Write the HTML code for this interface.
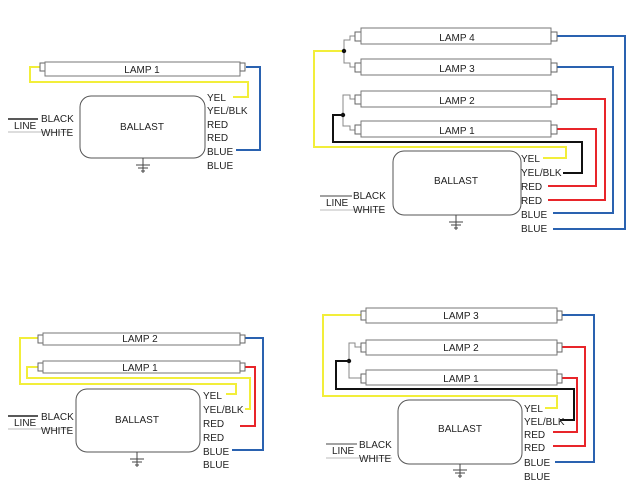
<!DOCTYPE html>
<html><head><meta charset="utf-8"><style>
html,body{margin:0;padding:0;background:#fff;}
svg{display:block;}
text{font-family:"Liberation Sans",sans-serif;font-size:10px;fill:#222;}
.t{fill:#fff;stroke:#777;stroke-width:1;}
.c{fill:#fff;stroke:#666;stroke-width:1;}
.g{fill:none;stroke:#888;stroke-width:1;}
.y{fill:none;stroke:#f2ee3a;stroke-width:2;}
.k{fill:none;stroke:#111;stroke-width:2;}
.r{fill:none;stroke:#e8252a;stroke-width:2;}
.b{fill:none;stroke:#2a62b0;stroke-width:2;}
.bx{fill:#fff;stroke:#555;stroke-width:1;}
.gl{stroke:#444;stroke-width:1;}
</style></head><body>
<svg width="640" height="480" viewBox="0 0 640 480" xmlns="http://www.w3.org/2000/svg">

<!-- ===== Diagram 1 ===== -->
<polyline class="y" points="40,67 30,67 30,82 248,82 248,97 233,97"/>
<polyline class="b" points="246,67 260,67 260,150 236,150"/>
<rect class="c" x="40" y="63" width="5" height="8"/>
<rect class="t" x="45" y="62" width="195" height="14"/>
<rect class="c" x="240" y="63" width="5" height="8"/>
<text x="142" y="73" text-anchor="middle">LAMP 1</text>
<rect class="bx" x="80" y="96" width="125" height="62" rx="11"/>
<text x="142" y="130" text-anchor="middle">BALLAST</text>
<text x="207" y="101">YEL</text>
<text x="207" y="114">YEL/BLK</text>
<text x="207" y="128">RED</text>
<text x="207" y="141">RED</text>
<text x="207" y="155">BLUE</text>
<text x="207" y="169">BLUE</text>
<g class="gl"><line x1="143" y1="158" x2="143" y2="173"/><line x1="136" y1="165" x2="150" y2="165"/><line x1="138" y1="168" x2="148" y2="168"/><line x1="141" y1="171" x2="145" y2="171"/></g>
<line x1="8" y1="119" x2="38" y2="119" stroke="#222" stroke-width="1.5"/>
<line x1="8" y1="132" x2="70" y2="132" stroke="#bbb" stroke-width="1"/>
<text x="14" y="129">LINE</text>
<text x="41" y="122">BLACK</text>
<text x="41" y="136">WHITE</text>

<!-- ===== Diagram 2 ===== -->
<polyline class="g" points="355,36 350,36 350,40 344,40 344,63 350,63 350,67 355,67"/>
<polyline class="g" points="355,99 350,99 350,95 343,95 343,126 350,126 350,130 355,130"/>
<polyline class="y" points="344,51 314,51 314,147 566,147 566,158 543,158"/>
<polyline class="k" points="343,115 333,115 333,142 582,142 582,173 563,173"/>
<circle cx="344" cy="51" r="2.2" fill="#111"/>
<circle cx="343" cy="115" r="2.2" fill="#111"/>
<polyline class="r" points="557,99 605,99 605,200 548,200"/>
<polyline class="r" points="557,129 596,129 596,186 548,186"/>
<polyline class="b" points="557,36 625,36 625,229 553,229"/>
<polyline class="b" points="557,67 613,67 613,213 553,213"/>
<g>
<rect class="c" x="355" y="32" width="6" height="9"/><rect class="t" x="361" y="28" width="190" height="16"/><rect class="c" x="551" y="32" width="6" height="9"/>
<rect class="c" x="355" y="63" width="6" height="9"/><rect class="t" x="361" y="59" width="190" height="16"/><rect class="c" x="551" y="63" width="6" height="9"/>
<rect class="c" x="355" y="95" width="6" height="9"/><rect class="t" x="361" y="91" width="190" height="16"/><rect class="c" x="551" y="95" width="6" height="9"/>
<rect class="c" x="355" y="125" width="6" height="9"/><rect class="t" x="361" y="121" width="190" height="16"/><rect class="c" x="551" y="125" width="6" height="9"/>
</g>
<text x="457" y="41" text-anchor="middle">LAMP 4</text>
<text x="457" y="72" text-anchor="middle">LAMP 3</text>
<text x="457" y="104" text-anchor="middle">LAMP 2</text>
<text x="457" y="134" text-anchor="middle">LAMP 1</text>
<rect class="bx" x="393" y="151" width="128" height="64" rx="11"/>
<text x="456" y="184" text-anchor="middle">BALLAST</text>
<text x="521" y="162">YEL</text>
<text x="521" y="176">YEL/BLK</text>
<text x="521" y="190">RED</text>
<text x="521" y="204">RED</text>
<text x="521" y="218">BLUE</text>
<text x="521" y="232">BLUE</text>
<g class="gl"><line x1="456" y1="215" x2="456" y2="230"/><line x1="449" y1="222" x2="463" y2="222"/><line x1="451" y1="225" x2="461" y2="225"/><line x1="454" y1="228" x2="458" y2="228"/></g>
<line x1="320" y1="196" x2="352" y2="196" stroke="#444" stroke-width="1"/>
<line x1="320" y1="210" x2="385" y2="210" stroke="#bbb" stroke-width="1"/>
<text x="326" y="206">LINE</text>
<text x="353" y="199">BLACK</text>
<text x="353" y="213">WHITE</text>

<!-- ===== Diagram 3 ===== -->
<polyline class="y" points="38,338 20,338 20,384 236,384 236,394 226,394"/>
<polyline class="y" points="38,367 27,367 27,378 250,378 250,409 245,409"/>
<polyline class="r" points="245,367 255,367 255,426 240,426"/>
<polyline class="b" points="245,338 263,338 263,450 232,450"/>
<rect class="c" x="38" y="335" width="5" height="8"/><rect class="t" x="43" y="333" width="197" height="12"/><rect class="c" x="240" y="335" width="5" height="8"/>
<rect class="c" x="38" y="363" width="5" height="8"/><rect class="t" x="43" y="361" width="197" height="12"/><rect class="c" x="240" y="363" width="5" height="8"/>
<text x="140" y="342" text-anchor="middle">LAMP 2</text>
<text x="140" y="371" text-anchor="middle">LAMP 1</text>
<rect class="bx" x="76" y="389" width="124" height="63" rx="11"/>
<text x="137" y="423" text-anchor="middle">BALLAST</text>
<text x="203" y="399">YEL</text>
<text x="203" y="413">YEL/BLK</text>
<text x="203" y="427">RED</text>
<text x="203" y="441">RED</text>
<text x="203" y="455">BLUE</text>
<text x="203" y="468">BLUE</text>
<g class="gl"><line x1="137" y1="452" x2="137" y2="467"/><line x1="130" y1="459" x2="144" y2="459"/><line x1="132" y1="462" x2="142" y2="462"/><line x1="135" y1="465" x2="139" y2="465"/></g>
<line x1="8" y1="416" x2="38" y2="416" stroke="#222" stroke-width="1.5"/>
<line x1="8" y1="429" x2="70" y2="429" stroke="#bbb" stroke-width="1"/>
<text x="14" y="426">LINE</text>
<text x="41" y="420">BLACK</text>
<text x="41" y="434">WHITE</text>

<!-- ===== Diagram 4 ===== -->
<polyline class="g" points="361,347 355,347 355,343 349,343 349,378 361,378"/>
<polyline class="y" points="361,315 323,315 323,396 557,396 557,408 545,408"/>
<polyline class="k" points="349,361 336,361 336,389 574,389 574,420 560,420"/>
<circle cx="349" cy="361" r="2.2" fill="#111"/>
<polyline class="r" points="562,347 585,347 585,446 553,446"/>
<polyline class="r" points="562,378 577,378 577,432 553,432"/>
<polyline class="b" points="562,315 594,315 594,462 555,462"/>
<rect class="c" x="361" y="311" width="5" height="9"/><rect class="t" x="366" y="308" width="191" height="15"/><rect class="c" x="557" y="311" width="5" height="9"/>
<rect class="c" x="361" y="343" width="5" height="9"/><rect class="t" x="366" y="340" width="191" height="15"/><rect class="c" x="557" y="343" width="5" height="9"/>
<rect class="c" x="361" y="374" width="5" height="9"/><rect class="t" x="366" y="370" width="191" height="15"/><rect class="c" x="557" y="374" width="5" height="9"/>
<text x="461" y="319" text-anchor="middle">LAMP 3</text>
<text x="461" y="351" text-anchor="middle">LAMP 2</text>
<text x="461" y="382" text-anchor="middle">LAMP 1</text>
<rect class="bx" x="398" y="400" width="124" height="64" rx="11"/>
<text x="460" y="432" text-anchor="middle">BALLAST</text>
<text x="524" y="412">YEL</text>
<text x="524" y="425">YEL/BLK</text>
<text x="524" y="438">RED</text>
<text x="524" y="451">RED</text>
<text x="524" y="466">BLUE</text>
<text x="524" y="480">BLUE</text>
<g class="gl"><line x1="460" y1="464" x2="460" y2="478"/><line x1="453" y1="470" x2="467" y2="470"/><line x1="455" y1="473" x2="465" y2="473"/><line x1="458" y1="476" x2="462" y2="476"/></g>
<line x1="326" y1="444" x2="357" y2="444" stroke="#444" stroke-width="1"/>
<line x1="326" y1="458" x2="392" y2="458" stroke="#bbb" stroke-width="1"/>
<text x="332" y="454">LINE</text>
<text x="359" y="448">BLACK</text>
<text x="359" y="462">WHITE</text>
</svg>
</body></html>
